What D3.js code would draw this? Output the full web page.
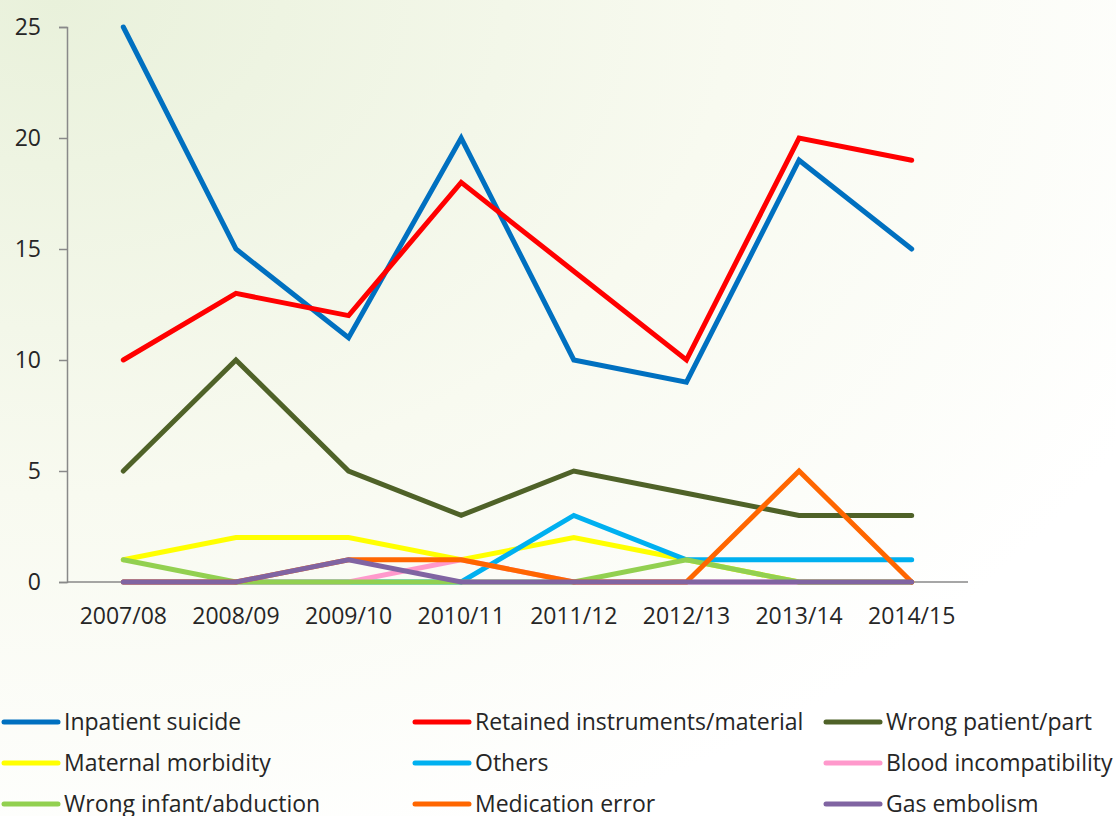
<!DOCTYPE html>
<html>
<head>
<meta charset="utf-8">
<title>Serious incidents by type</title>
<style>
  body { margin: 0; background: #fff; }
  svg text { font-family: "Open Sans", Lato, sans-serif; fill: #262626; }
</style>
</head>
<body>
<script src="https://d3js.org/d3.v7.min.js"></script>
<script>
// years on the x axis
var years = ["2007/08", "2008/09", "2009/10", "2010/11", "2011/12", "2012/13", "2013/14", "2014/15"];
var yTicks = [0, 5, 10, 15, 20, 25];

// one array per incident type, in legend order
var inpatientSuicide = [25, 15, 11, 20, 10, 9, 19, 15];
var retained        = [10, 13, 12, 18, 14, 10, 20, 19];
var wrongPatient    = [5, 10, 5, 3, 5, 4, 3, 3];
var maternal        = [1, 2, 2, 1, 2, 1, 0, 0];
var others          = [0, 0, 0, 0, 3, 1, 1, 1];
var blood           = [0, 0, 0, 1, 0, 0, 0, 0];
var wrongInfant     = [1, 0, 0, 0, 0, 1, 0, 0];
var medication      = [0, 0, 1, 1, 0, 0, 5, 0];
var gasEmbolism     = [0, 0, 1, 0, 0, 0, 0, 0];

var seriesNames = ["Inpatient suicide", "Retained instruments/material", "Wrong patient/part",
  "Maternal morbidity", "Others", "Blood incompatibility",
  "Wrong infant/abduction", "Medication error", "Gas embolism"];
var seriesColors = ["#0070C0", "#FF0000", "#4F6228", "#FFFF00", "#00B0F0", "#FF99CC",
  "#92D050", "#FF6600", "#8064A2"];
var seriesValues = [inpatientSuicide, retained, wrongPatient, maternal, others, blood,
  wrongInfant, medication, gasEmbolism];

var W = 1116, H = 816;
var svg = d3.select("body").append("svg").attr("width", W).attr("height", H);

// soft green background glow
var defs = svg.append("defs");
var grad = defs.append("radialGradient").attr("id", "bg")
  .attr("cx", "0.05").attr("cy", "0.0").attr("r", "1.1");
grad.append("stop").attr("offset", "0").attr("stop-color", "#e9f1db");
grad.append("stop").attr("offset", "0.55").attr("stop-color", "#f8faf0");
grad.append("stop").attr("offset", "1").attr("stop-color", "#ffffff");
svg.append("rect").attr("width", W).attr("height", H).attr("fill", "url(#bg)");

var x = d3.scaleBand().domain(years).range([67, 968]);
var y = d3.scaleLinear().domain([0, 25]).range([582, 27]);

// axes
var yAxis = svg.append("g").attr("transform", "translate(67,0)")
  .call(d3.axisLeft(y).tickValues(yTicks).tickSize(8).tickPadding(18));
var xAxis = svg.append("g").attr("transform", "translate(0,582)")
  .call(d3.axisBottom(x).tickSize(0).tickPadding(26));
// excel-style ticks between categories
xAxis.selectAll(".bound").data(d3.range(years.length + 1)).enter().append("line")
  .attr("x1", function(i) { return 67 + i * x.step(); })
  .attr("x2", function(i) { return 67 + i * x.step(); })
  .attr("y1", 0).attr("y2", 7);

svg.selectAll(".domain, .tick line, .bound").attr("stroke", "#898989").attr("stroke-width", 1.5);
xAxis.select(".domain").attr("d", "M67,0H968");
svg.selectAll(".tick text").style("font-size", "23px").attr("fill", "#262626");

// lines
var line = d3.line()
  .x(function(d, i) { return x(years[i]) + x.bandwidth() / 2; })
  .y(function(d) { return y(d); });

svg.selectAll(".series").data(seriesValues).enter().append("path")
  .attr("class", "series")
  .attr("d", line)
  .attr("fill", "none")
  .attr("stroke", function(d, i) { return seriesColors[i]; })
  .attr("stroke-width", 5)
  .attr("stroke-linecap", "round")
  .attr("stroke-linejoin", "miter");

// legend, three columns
var legend = svg.append("g");
var colX = [4, 415, 826], rowY = [722, 763, 804];
var item = legend.selectAll(".item").data(seriesNames).enter().append("g")
  .attr("transform", function(d, i) { return "translate(" + colX[i % 3] + "," + rowY[Math.floor(i / 3)] + ")"; });
item.append("line").attr("x1", 0).attr("x2", 54).attr("y1", 0).attr("y2", 0)
  .attr("stroke", function(d, i) { return seriesColors[i]; })
  .attr("stroke-width", 5).attr("stroke-linecap", "round");
item.append("text").attr("x", 60).attr("y", 8).style("font-size", "23px").text(function(d) { return d; });
</script>
</body>
</html>
